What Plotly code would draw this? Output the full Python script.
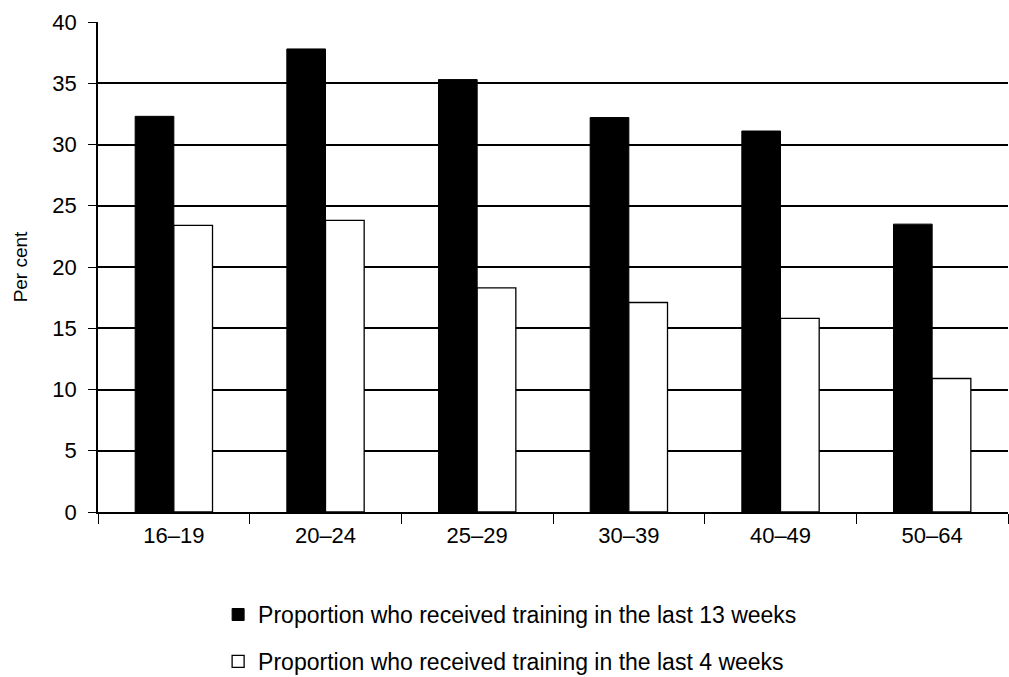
import plotly.graph_objects as go

age_groups = ["16–19", "20–24", "25–29", "30–39", "40–49", "50–64"]
last_13_weeks = [32.3, 37.8, 35.3, 32.2, 31.1, 23.5]
last_4_weeks = [23.4, 23.8, 18.3, 17.1, 15.8, 10.9]
y_ticks = [0, 5, 10, 15, 20, 25, 30, 35, 40]

font_main = "Liberation Sans, Arial, sans-serif"

fig = go.Figure()
fig.add_trace(go.Bar(
    x=age_groups, y=last_13_weeks,
    name="Proportion who received training in the last 13 weeks",
    marker=dict(color="black", line=dict(color="black", width=1)),
    legendgroup="a",
))
fig.add_trace(go.Bar(
    x=age_groups, y=last_4_weeks,
    name="Proportion who received training in the last 4 weeks",
    marker=dict(color="white", line=dict(color="black", width=1.3)),
    legendgroup="b",
))

fig.update_layout(
    width=1009, height=677,
    margin=dict(l=98, r=1, t=22, b=165),
    paper_bgcolor="white", plot_bgcolor="white",
    barmode="group", bargap=0.49, bargroupgap=0,
    font=dict(family=font_main, color="black", size=22),
    showlegend=True,
    legend=dict(
        orientation="v", xref="paper", x=0.132, xanchor="left",
        yref="container", y=0.124, yanchor="top",
        font=dict(size=23, family=font_main), tracegroupgap=14,
        bgcolor="rgba(0,0,0,0)",
    ),
    xaxis=dict(
        type="category", showline=True, linecolor="black", linewidth=1.5,
        ticks="outside", tickson="boundaries", ticklen=10, tickwidth=1.2,
        tickcolor="black", showgrid=False, tickfont=dict(size=22),
        ticklabelstandoff=3, automargin=False,
    ),
    yaxis=dict(
        range=[0, 40], tickvals=y_ticks, showline=True, linecolor="black",
        linewidth=1.5, ticks="outside", ticklen=8, tickwidth=1.2,
        tickcolor="black", showgrid=True, gridcolor="black", gridwidth=1.5,
        zeroline=False, tickfont=dict(size=22), ticklabelstandoff=7,
        automargin=False,
        title=dict(text="Per cent", font=dict(size=19), standoff=20),
    ),
)

fig.write_html("out.html")
